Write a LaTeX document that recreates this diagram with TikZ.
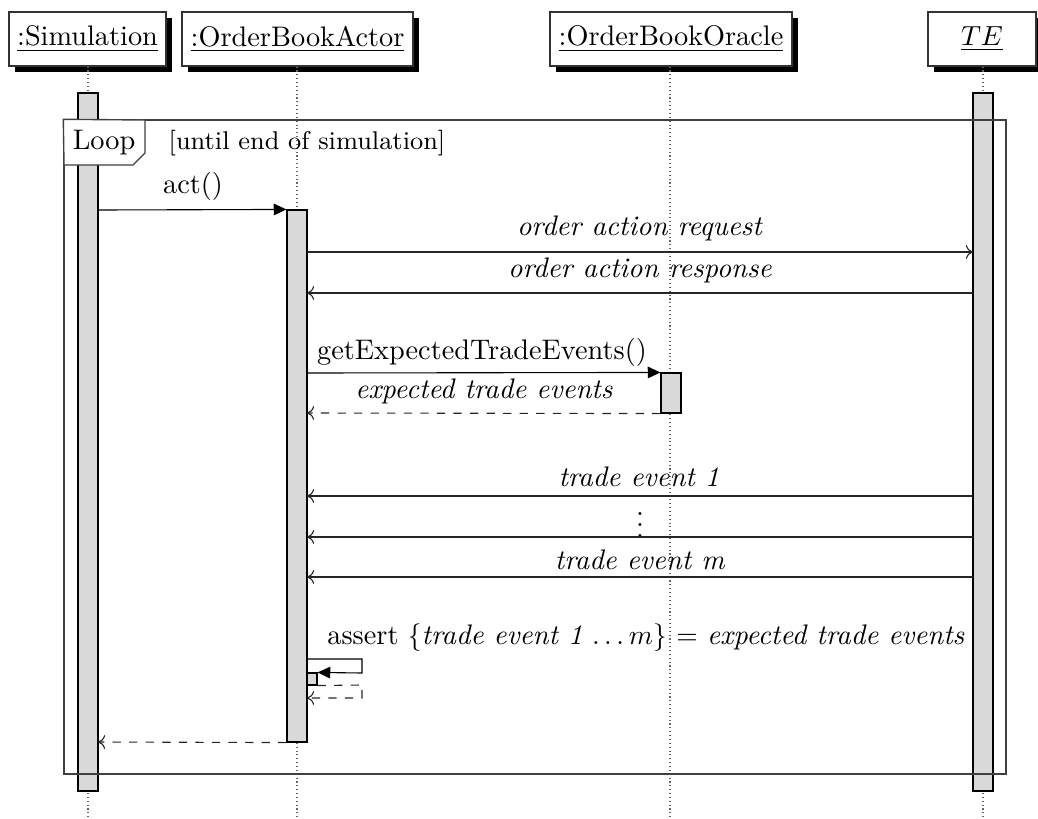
\documentclass[tikz,border=0pt]{standalone}
\usetikzlibrary{arrows.meta,fit}
\tikzset{
  inst/.style={draw=black!80, fill=white, inner sep=0pt},
  shadowbox/.style={fill=black},
  bar/.style={draw=black, fill=black!15, inner sep=0pt},
  lifeline/.style={densely dotted, draw=black!60},
  call/.style={-{Triangle[length=4.6pt,width=4.2pt]}},
  msg/.style={-{Computer Modern Rightarrow[length=2.6pt,width=5pt]}, draw=black!85},
  ret/.style={dashed, -{Computer Modern Rightarrow[length=2.6pt,width=5pt]}, draw=black!85},
  frame/.style={draw=black!75, line width=0.5pt},
  lbl/.style={inner sep=0pt, font=\fontsize{10.25}{12}\selectfont},
  condlbl/.style={inner sep=0pt, font=\fontsize{9.3}{11}\selectfont}
}
\begin{document}
\begin{tikzpicture}[x=0.3623pt, y=-0.3623pt]
\useasboundingbox (0,0) rectangle (1038,819);
\clip (0,0) rectangle (1038,819);
% instance boxes
\fill[shadowbox] (15,18) rectangle (172,72);
\node[inst, fit={(9,12) (166,66)}] (sim) {};
\node[lbl] (simlbl) at (sim.center) {\underline{:Simulation}};
\fill[shadowbox] (188,18) rectangle (419,72);
\node[inst, fit={(182,12) (413,66)}] (actor) {};
\node[lbl] (actorlbl) at (actor.center) {\underline{:OrderBookActor}};
\fill[shadowbox] (556,18) rectangle (798,72);
\node[inst, fit={(550,12) (792,66)}] (oracle) {};
\node[lbl] (oraclelbl) at (oracle.center) {\underline{:OrderBookOracle}};
\fill[shadowbox] (934,18) rectangle (1042,72);
\node[inst, fit={(928,12) (1036,66)}] (te) {};
\node[lbl] (telbl) at (te.center) {\underline{$TE$}};
% lifeline ends
\coordinate (simend) at (88,819);
\coordinate (actend) at (297,819);
\coordinate (oraend) at (670,819);
\coordinate (teend) at (983,819);
\draw[lifeline] (sim.south -| simend) -- (simend);
\draw[lifeline] (actor.south -| actend) -- (actend);
\draw[lifeline] (oracle.south -| oraend) -- (oraend);
\draw[lifeline] (te.south -| teend) -- (teend);
% activation bars
\node[bar, fit={(78,93) (98,791)}] (simbar) {};
\node[bar, fit={(973,93) (993,791)}] (tebar) {};
\node[bar, fit={(287,210) (307,742)}] (actbar) {};
\node[bar, fit={(661,373) (681,413)}] (orabar) {};
\node[bar, fit={(307,673) (317,685)}] (selfbar) {};
% loop frame
\node[frame, fit={(64,120) (1006,774)}, inner sep=0pt] (loopframe) {};
\coordinate (tabA) at (145,120);
\coordinate (tabB) at (145,153);
\coordinate (tabC) at (133,165);
\coordinate (tabD) at (64,165);
\filldraw[frame, fill=white] (loopframe.north west) -- (tabA) -- (tabB) -- (tabC) -- (tabD) -- cycle;
\node[lbl] (looplbl) at (104,143) {Loop};
\node[condlbl] (loopcond) at (307,143) {[until end of simulation]};
% act()
\coordinate (m1) at (98,210);
\draw[call] (m1) -- (actbar.north west);
\node[lbl] (actlbl) at (193,186) {act()};
% order action request / response
\coordinate (m2a) at (307,252);
\coordinate (m2b) at (973,252);
\draw[msg] (m2a) -- (m2b);
\node[lbl] (m2lbl) at (640,228) {\textit{order action request}};
\coordinate (m3a) at (973,293);
\coordinate (m3b) at (307,293);
\draw[msg] (m3a) -- (m3b);
\node[lbl] (m3lbl) at (640,270) {\textit{order action response}};
% oracle call
\coordinate (m4a) at (307,373);
\draw[call] (m4a) -- (orabar.north west);
\node[lbl] (m4lbl) at (482,352) {getExpectedTradeEvents()};
\coordinate (m5b) at (307,413);
\draw[ret] (orabar.south west) -- (m5b);
\node[lbl] (m5lbl) at (484,391) {\textit{expected trade events}};
% trade events
\coordinate (m6a) at (973,496);
\coordinate (m6b) at (307,496);
\draw[msg] (m6a) -- (m6b);
\node[lbl] (m6lbl) at (639,477) {\textit{trade event 1}};
\node[lbl] (dots) at (640,517) {$\vdots$};
\coordinate (m7a) at (973,537);
\coordinate (m7b) at (307,537);
\draw[msg] (m7a) -- (m7b);
\coordinate (m8a) at (973,577);
\coordinate (m8b) at (307,577);
\draw[msg] (m8a) -- (m8b);
\node[lbl] (m8lbl) at (640,560) {\textit{trade event m}};
% assert self call
\node[lbl] (assertlbl) at (646,638) {assert $\{$\textit{trade event 1} $\ldots m\}$ $=$ \textit{expected trade events}};
\coordinate (s1) at (307,659);
\coordinate (s2) at (362,659);
\coordinate (s3) at (362,673);
\draw[call] (s1) -- (s2) -- (s3) -- (selfbar.north east);
\coordinate (r2) at (362,685);
\coordinate (r3) at (362,698);
\coordinate (r4) at (307,698);
\draw[ret] (selfbar.south east) -- (r2) -- (r3) -- (r4);
% final return
\coordinate (fin) at (98,742);
\draw[ret] (actbar.south west) -- (fin);
\end{tikzpicture}
\end{document}
